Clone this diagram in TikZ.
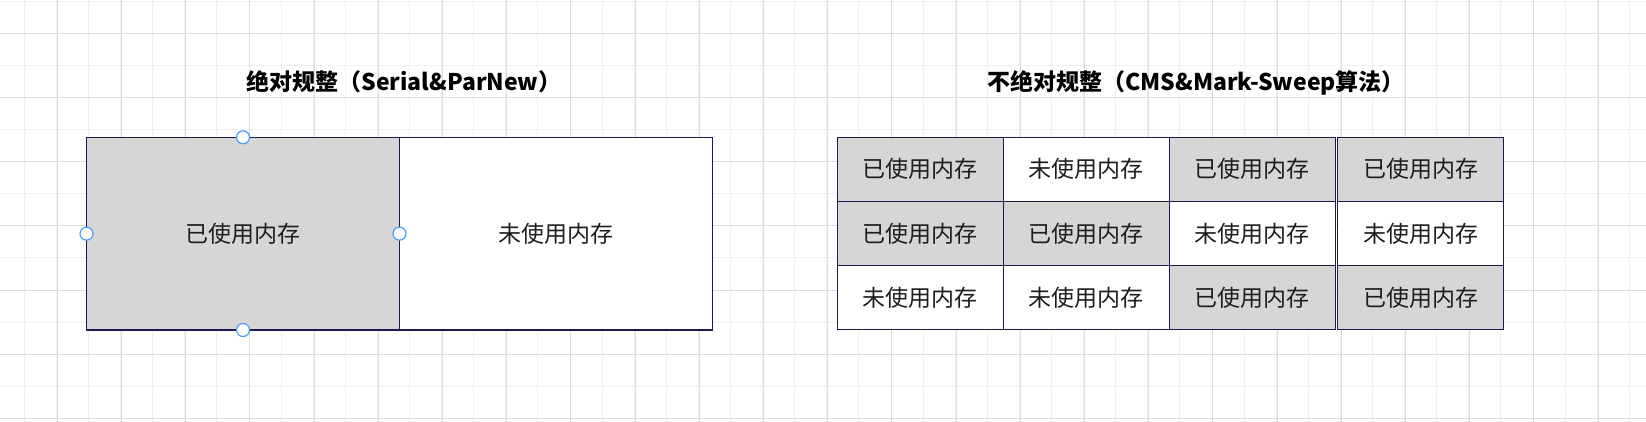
\documentclass[tikz,border=0pt]{standalone}
\usepackage{fontspec}
\usepackage{xcolor}
\usepackage{tikz}
\usetikzlibrary{positioning}
\newfontfamily\cjk{Noto Sans CJK SC}

\definecolor{boxline}{HTML}{1A1A4E}
\definecolor{usedgray}{HTML}{D6D6D6}
\definecolor{textc}{HTML}{1E1E1E}
\definecolor{gridminor}{HTML}{F0F0F0}
\definecolor{gridmajor}{HTML}{DDDDDD}
\definecolor{handleblue}{HTML}{4A9EFF}

\begin{document}
\begin{tikzpicture}[x=1pt,y=1pt,node distance=0pt,
    font=\cjk\fontsize{23}{27}\selectfont]
    \tikzstyle{block}=[draw=boxline,line width=1.2pt,inner sep=0pt,outer sep=0pt,text=textc]
    \tikzstyle{half}=[block,minimum width=313pt,minimum height=192.7pt]
    \tikzstyle{cell}=[block,minimum width=166pt,minimum height=64pt]
    \tikzstyle{used}=[fill=usedgray]
    \tikzstyle{free}=[fill=white]
    \tikzstyle{handle}=[circle,draw=handleblue,fill=white,line width=1.2pt,
      minimum size=13pt,inner sep=0pt]
    \tikzstyle{title}=[font=\cjk\bfseries\fontsize{23}{27}\selectfont,text=black]

    \useasboundingbox[fill=white] (0,0) rectangle (1646,422);
    % background grid
    \draw[gridminor,line width=1pt,shift={(24.3,3.5)}] (-24.3,-3.5) grid[step=32.1pt] (1621.7,418.5);
    \draw[gridmajor,line width=1pt,shift={(57.3,3.5)}] (-57.3,-3.5) grid[step=64.2pt] (1588.7,418.5);

    % absolutely regular
    \node[title]          (ltitle)                 at (404,340)    {绝对规整（Serial\&ParNew）};
    \node[half,used]      (lused)                  at (243,188.35) {已使用内存};
    \node[half,free]      (lfree)  [right=of lused]                {未使用内存};

    \node[handle] (hn) at (lused.north) {};
    \node[handle] (hs) at (lused.south) {};
    \node[handle] (hw) at (lused.west)  {};
    \node[handle] (he) at (lused.east)  {};

    % not regular
    \node[title]          (rtitle)                 at (1196,339)   {不绝对规整（CMS\&Mark-Sweep算法）};
    \node[cell,used]      (a1)                     at (920.3,252.7) {已使用内存};
    \node[cell,free]      (a2)     [right=of a1]                    {未使用内存};
    \node[cell,used]      (a3)     [right=of a2]                    {已使用内存};
    \node[cell,used]      (a4)     [right=2.5pt of a3]              {已使用内存};

    \node[cell,used]      (b1)     [below=of a1]                    {已使用内存};
    \node[cell,used]      (b2)     [right=of b1]                    {已使用内存};
    \node[cell,free]      (b3)     [right=of b2]                    {未使用内存};
    \node[cell,free]      (b4)     [right=2.5pt of b3]              {未使用内存};

    \node[cell,free]      (c1)     [below=of b1]                    {未使用内存};
    \node[cell,free]      (c2)     [right=of c1]                    {未使用内存};
    \node[cell,used]      (c3)     [right=of c2]                    {已使用内存};
    \node[cell,used]      (c4)     [right=2.5pt of c3]              {已使用内存};
  \end{tikzpicture}
\end{document}
